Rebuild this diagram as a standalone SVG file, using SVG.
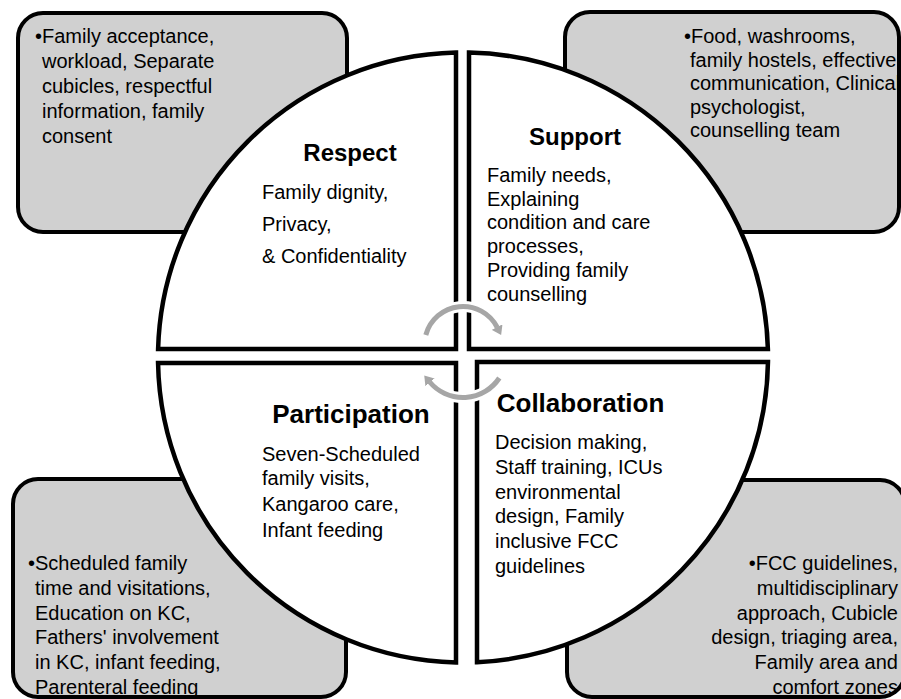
<svg xmlns="http://www.w3.org/2000/svg" width="901" height="699" viewBox="0 0 901 699">
  <defs>
    <style>
      .box { fill: #d0d0d0; stroke: #000; stroke-width: 4; }
      .quad { fill: #fff; stroke: #000; stroke-width: 4.5; stroke-linejoin: miter; }
      text { font-family: "Liberation Sans", Arial, sans-serif; fill: #000; }
      .body { font-size: 20px; }
      .head { font-size: 24px; font-weight: bold; text-anchor: middle; }
      .head-lg { font-size: 26px; font-weight: bold; text-anchor: middle; }
      .end { text-anchor: end; }
      .halo { fill: none; stroke: #fff; stroke-width: 11; }
      .cycle { fill: none; stroke: #a6a6a6; stroke-width: 5; }
    </style>
    <marker id="cycle-head" viewBox="0 0 9 12" refX="0.5" refY="6" markerWidth="9" markerHeight="12" markerUnits="userSpaceOnUse" orient="auto">
      <path d="M0,0 L9,6 L0,12 z" fill="#a6a6a6"/>
    </marker>
  </defs>

  <!-- Detail boxes behind the circle -->
  <g id="respect-details">
    <rect class="box" x="18" y="13" width="329" height="219" rx="25" ry="25"/>
    <text class="body" x="35" y="43">•Family acceptance,</text>
    <text class="body" x="42" y="68">workload, Separate</text>
    <text class="body" x="42" y="93">cubicles, respectful</text>
    <text class="body" x="42" y="118">information, family</text>
    <text class="body" x="42" y="143">consent</text>
  </g>

  <g id="support-details">
    <rect class="box" x="565" y="12" width="334" height="220" rx="25" ry="25"/>
    <text class="body" x="684" y="43">•Food, washrooms,</text>
    <text class="body" x="690" y="66.5">family hostels, effective</text>
    <text class="body" x="690" y="90">communication, Clinical</text>
    <text class="body" x="690" y="113.5">psychologist,</text>
    <text class="body" x="690" y="137">counselling team</text>
  </g>

  <g id="participation-details">
    <rect class="box" x="13" y="479" width="333" height="218" rx="25" ry="25"/>
    <text class="body" x="28" y="570">•Scheduled family</text>
    <text class="body" x="35" y="594.8">time and visitations,</text>
    <text class="body" x="35" y="619.6">Education on KC,</text>
    <text class="body" x="35" y="644.4">Fathers' involvement</text>
    <text class="body" x="35" y="669.2">in KC, infant feeding,</text>
    <text class="body" x="35" y="694">Parenteral feeding</text>
  </g>

  <g id="collaboration-details">
    <rect class="box" x="567" y="480" width="338" height="217" rx="25" ry="25"/>
    <text class="body end" x="898" y="570">•FCC guidelines,</text>
    <text class="body end" x="898" y="594.8">multidisciplinary</text>
    <text class="body end" x="898" y="619.6">approach, Cubicle</text>
    <text class="body end" x="898" y="644.4">design, triaging area,</text>
    <text class="body end" x="898" y="669.2">Family area and</text>
    <text class="body end" x="898" y="694">comfort zones</text>
  </g>

  <!-- Circle split into four quadrants (centre 463,357.5, r 305) -->
  <g id="respect">
    <path class="quad" d="M456,52.6 L456,349 L158.1,349 A305,305 0 0 1 456,52.6 Z"/>
    <text class="head" x="350" y="161">Respect</text>
    <text class="body" x="262" y="199">Family dignity,</text>
    <text class="body" x="262" y="230.5">Privacy,</text>
    <text class="body" x="262" y="263">&amp; Confidentiality</text>
  </g>

  <g id="support">
    <path class="quad" d="M469,52.6 L469,349 L767.9,349 A305,305 0 0 0 469,52.6 Z"/>
    <text class="head" x="575" y="145">Support</text>
    <text class="body" x="487" y="182">Family needs,</text>
    <text class="body" x="487" y="205.7">Explaining</text>
    <text class="body" x="487" y="229.4">condition and care</text>
    <text class="body" x="487" y="253.1">processes,</text>
    <text class="body" x="487" y="276.8">Providing family</text>
    <text class="body" x="487" y="300.5">counselling</text>
  </g>

  <g id="participation">
    <path class="quad" d="M456,363 L456,662.4 A305,305 0 0 1 158.05,363 Z"/>
    <text class="head-lg" x="351" y="423">Participation</text>
    <text class="body" x="262" y="461">Seven-Scheduled</text>
    <text class="body" x="262" y="485">family visits,</text>
    <text class="body" x="262" y="511">Kangaroo care,</text>
    <text class="body" x="262" y="537">Infant feeding</text>
  </g>

  <g id="collaboration">
    <path class="quad" d="M477,362 L767.97,362 A305,305 0 0 1 477,662.2 Z"/>
    <text class="head-lg" x="580.5" y="412">Collaboration</text>
    <text class="body" x="495" y="449">Decision making,</text>
    <text class="body" x="495" y="473.7">Staff training, ICUs</text>
    <text class="body" x="495" y="498.5">environmental</text>
    <text class="body" x="495" y="523.3">design, Family</text>
    <text class="body" x="495" y="548">inclusive FCC</text>
    <text class="body" x="495" y="572.8">guidelines</text>
  </g>

  <!-- Cycle arrows in the middle -->
  <g id="connectors">
    <path class="halo" d="M425.8,335 A38.5,38.5 0 0 1 497.3,327.5"/>
    <path class="cycle" d="M425.8,335 A38.5,38.5 0 0 1 497.3,327.5" marker-end="url(#cycle-head)"/>
    <path class="halo" d="M499.3,378 A43.5,43.5 0 0 1 429.7,382"/>
    <path class="cycle" d="M499.3,378 A43.5,43.5 0 0 1 429.7,382" marker-end="url(#cycle-head)"/>
  </g>
</svg>
